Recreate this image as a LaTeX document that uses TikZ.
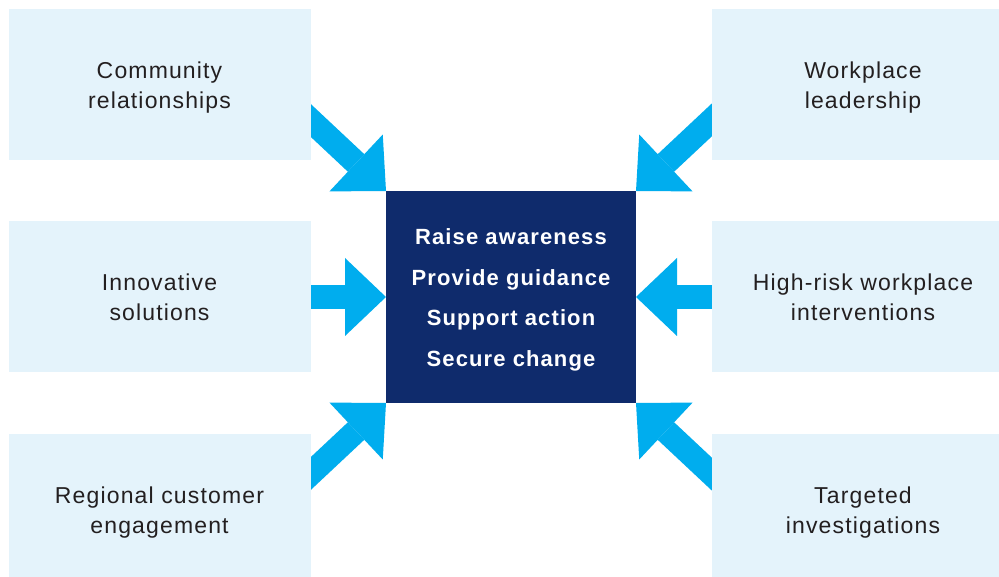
\documentclass[tikz,border=0pt]{standalone}
\usepackage{fontspec}
\setmainfont{Liberation Sans}[LetterSpace=5]
\usetikzlibrary{arrows.meta}
\definecolor{lightbox}{HTML}{E4F3FB}
\definecolor{cyanarrow}{HTML}{00ADEE}
\definecolor{navy}{HTML}{0F2B6C}
\definecolor{txt}{HTML}{231F20}
\newcommand\myhd[1]{\rule{0pt}{#1}}
\newcommand\mydp{\rule[-6pt]{0pt}{6pt}}
\tikzset{
  sidebox/.style={fill=lightbox, draw=none, inner sep=0pt, outer sep=0pt,
    minimum width=302pt, minimum height=151pt, align=center, text=txt,
    font=\fontsize{23}{30}\selectfont},
  centerbox/.style={fill=navy, draw=none, inner sep=0pt, outer sep=0pt,
    minimum width=250pt, minimum height=212pt, align=center, text=white,
    font=\fontsize{22}{40.5}\selectfont\bfseries},
  bigarrow/.style={draw=cyanarrow, line width=24pt,
    -{Triangle[width=78pt,length=41pt,line width=0pt,color=cyanarrow]}}
}
\begin{document}
\begin{tikzpicture}[x=1pt,y=-1pt]
\clip (0,0) rectangle (999,577);
\fill[white] (0,0) rectangle (999,577);
\node[centerbox] (c) at (511,297) {\myhd{22pt}Raise awareness\\Provide guidance\\Support action\\Secure change};
\coordinate (t1) at (290,101);
\coordinate (t2) at (732,101);
\coordinate (t3) at (300,297);
\coordinate (t4) at (722,297);
\coordinate (t5) at (290,493);
\coordinate (t6) at (732,493);
\draw[bigarrow] (t1) -- (c.north west);
\draw[bigarrow] (t2) -- (c.north east);
\draw[bigarrow] (t3) -- (c.west);
\draw[bigarrow] (t4) -- (c.east);
\draw[bigarrow] (t5) -- (c.south west);
\draw[bigarrow] (t6) -- (c.south east);
\node[sidebox] (cr) at (159.5,85) {\myhd{24pt}Community\\relationships\mydp};
\node[sidebox] (wl) at (863,85) {\myhd{24pt}Workplace\\leadership\mydp};
\node[sidebox] (is) at (159.5,297) {\myhd{24pt}Innovative\\solutions\mydp};
\node[sidebox] (hr) at (863,297) {\myhd{24pt}High-risk workplace\\interventions\mydp};
\node[sidebox] (rc) at (159.5,509) {\myhd{24pt}Regional customer\\engagement\mydp};
\node[sidebox] (ti) at (863,509) {\myhd{24pt}Targeted\\investigations\mydp};
\end{tikzpicture}
\end{document}
